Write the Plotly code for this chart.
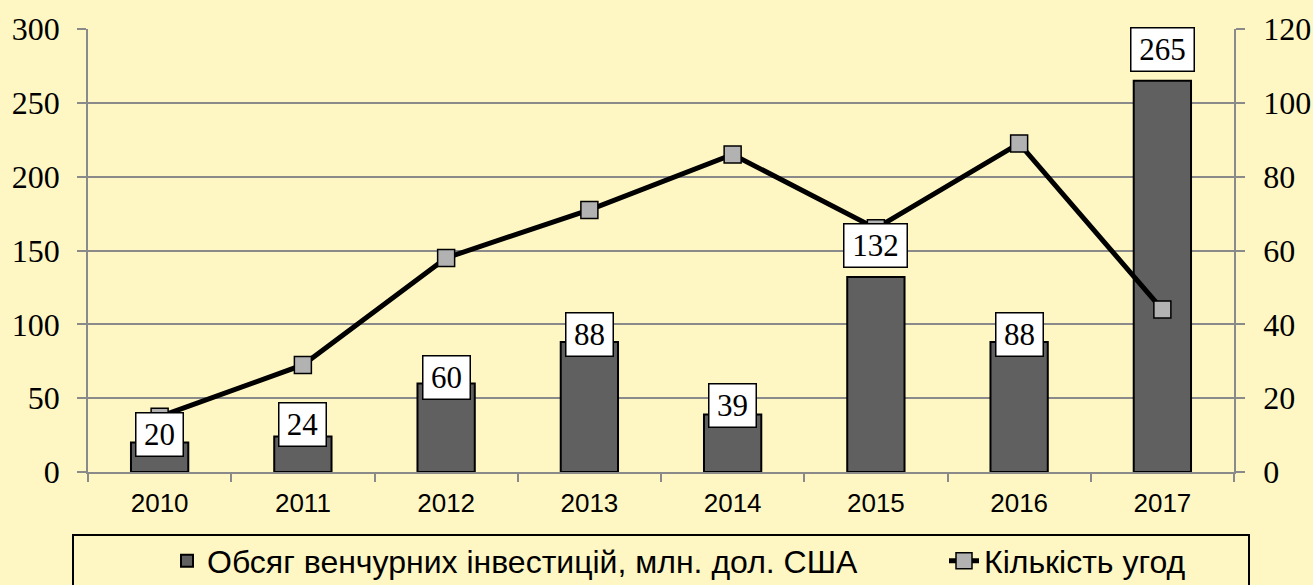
import plotly.graph_objects as go

years = ["2010", "2011", "2012", "2013", "2014", "2015", "2016", "2017"]
investments = [20, 24, 60, 88, 39, 132, 88, 265]
deals = [15, 29, 58, 71, 86, 66, 89, 44]
bar_name = "Обсяг венчурних інвестицій, млн. дол. США"
line_name = "Кількість угод"
left_ticks = [0, 50, 100, 150, 200, 250, 300]
right_ticks = [0, 20, 40, 60, 80, 100, 120]

# label vertical offsets (px) above bar top, style only
label_shift = [8, 12, 6, 8, 9, 32, 8, 31]

BG = "#FFF7C3"
W, H = 1313, 585
L, R, T, B = 88, 79, 29, 113
pw = W - L - R
ph = H - T - B

fig = go.Figure()
fig.add_trace(go.Bar(
    x=years, y=investments, name=bar_name, width=0.4,
    marker=dict(color="#606060", line=dict(color="black", width=2)),
    legend="legend", yaxis="y",
))
fig.add_trace(go.Scatter(
    x=years, y=deals, name=line_name, mode="lines+markers",
    line=dict(color="black", width=5),
    marker=dict(symbol="square", size=17, color="#B2B2B2",
                line=dict(color="black", width=1.5)),
    legend="legend2", yaxis="y2",
))

for i, (v, s) in enumerate(zip(investments, label_shift)):
    txt = str(v)
    fig.add_annotation(
        x=i, y=v, xref="x", yref="y", text=txt, showarrow=False,
        yanchor="middle", yshift=s,
        font=dict(family="Liberation Serif", size=31, color="black"),
        bgcolor="white", bordercolor="black", borderwidth=1.5, borderpad=0,
        width=16 * len(txt) + 14, height=42,
    )

def px_x(p):
    return (p - L) / pw

def px_y(p):
    return (H - B - p) / ph

fig.add_shape(type="rect", xref="paper", yref="paper",
              x0=px_x(73), x1=px_x(1249), y0=px_y(535), y1=px_y(620),
              line=dict(color="black", width=2), fillcolor="rgba(0,0,0,0)", layer="above")

axis_common = dict(
    showgrid=True, gridcolor="#8A8A8A", gridwidth=1.5,
    showline=True, linecolor="#8A8A8A", linewidth=1.5,
    ticks="outside", ticklen=9, tickcolor="#8A8A8A", tickwidth=1.5,
    tickfont=dict(family="Liberation Serif", size=32, color="black"),
    zeroline=False, fixedrange=True,
)

legend_common = dict(
    xref="container", yref="container", xanchor="left", yanchor="middle",
    orientation="h", bgcolor="rgba(0,0,0,0)", borderwidth=0,
    font=dict(family="Liberation Sans", size=32, color="black"),
)

fig.update_layout(
    width=W, height=H,
    margin=dict(l=L, r=R, t=T, b=B, autoexpand=False),
    paper_bgcolor=BG, plot_bgcolor=BG,
    showlegend=True,
    xaxis=dict(
        type="category", range=[-0.5, len(years) - 0.5],
        showgrid=False, showline=True, linecolor="#8A8A8A", linewidth=1.5,
        ticks="outside", ticklen=8, tickcolor="#8A8A8A", tickwidth=1.5,
        tickson="boundaries", ticklabelstandoff=7,
        tickfont=dict(family="Liberation Sans", size=26, color="black"),
        fixedrange=True,
    ),
    yaxis=dict(range=[0, 300], tickvals=left_ticks, ticklabelstandoff=11, **axis_common),
    yaxis2=dict(range=[0, 120], tickvals=right_ticks, overlaying="y", side="right",
                ticklabelstandoff=12, **{**axis_common, "showgrid": False}),
    legend=dict(x=167 / W, y=1 - 561 / H, **legend_common),
    legend2=dict(x=944 / W, y=1 - 561 / H, **legend_common),
)

fig.write_html("out.html", config={"displayModeBar": False},
               post_script=["document.body.style.margin='0';"])
